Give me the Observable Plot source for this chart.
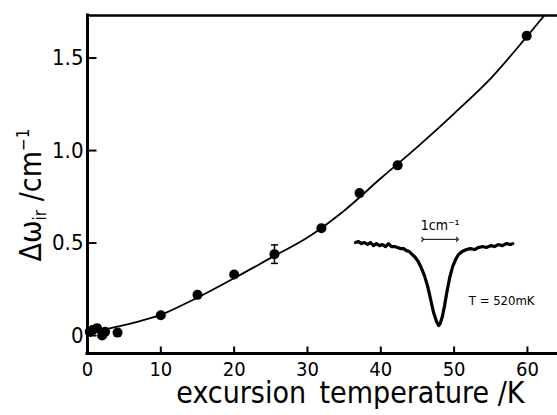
<!DOCTYPE html>
<html><head><meta charset="utf-8">
<script src="https://cdn.jsdelivr.net/npm/d3@7"></script>
<script src="https://cdn.jsdelivr.net/npm/@observablehq/plot@0.6"></script>
<style>
body{margin:0;background:#fff;}
</style></head><body><div id="chart"></div>
<script>
const FONT = '"DejaVu Sans Condensed","DejaVu Sans",sans-serif';

// Axis extents and ticks
const xMin = 0, xMax = 64.1;
const yMin = -0.097, yMax = 1.73;
const xTickValues = [0, 10, 20, 30, 40, 50, 60];
const yTickValues = [0, 0.5, 1.0, 1.5];
const yTickLabels = ["0", "0.5", "1.0", "1.5"];

// Measured points: excursion temperature (K) vs line shift (cm^-1)
const tempK = [0.3, 0.7, 1.3, 2.0, 2.4, 4.1, 10, 15, 20, 25.5, 31.9, 37.1, 42.3, 59.9];
const shift = [0.02, 0.03, 0.04, 0.0, 0.02, 0.016, 0.11, 0.22, 0.33, 0.44, 0.58, 0.77, 0.92, 1.62];

// Error bar
const errT = [25.5];
const errLo = [0.39];
const errHi = [0.49];

// Fitted curve
const fitT = [0, 2, 4, 6, 8, 10, 15, 20, 25, 30, 35, 40, 45, 50, 55, 60, 62.3];
const fitS = [0.015, 0.03, 0.048, 0.066, 0.088, 0.112, 0.205, 0.31, 0.42, 0.53, 0.675, 0.85, 1.02, 1.2, 1.39, 1.62, 1.73];

// Inset absorption trace (drawn in the main plot coordinates)
const insetX = [36.55, 36.96, 37.37, 37.77, 38.18, 38.59, 39.0, 39.41, 39.82, 40.23, 40.64, 41.05, 41.46, 41.87, 42.27, 42.68, 43.1, 43.5, 43.9, 44.3, 44.7, 45.1, 45.5, 45.95, 46.4, 46.8, 47.2, 47.6, 47.9, 48.1, 48.4, 48.7, 49.0, 49.4, 49.8, 50.2, 50.6, 51.1, 51.7, 52.2, 52.8, 53.3, 53.9, 54.4, 55.0, 55.5, 56.0, 56.6, 57.1, 57.7, 58.0];
const insetY = [0.503, 0.508, 0.497, 0.503, 0.492, 0.503, 0.486, 0.497, 0.486, 0.492, 0.481, 0.497, 0.481, 0.481, 0.476, 0.470, 0.470, 0.459, 0.454, 0.438, 0.422, 0.400, 0.368, 0.324, 0.265, 0.195, 0.124, 0.076, 0.054, 0.065, 0.103, 0.162, 0.232, 0.314, 0.373, 0.411, 0.438, 0.454, 0.465, 0.470, 0.465, 0.476, 0.481, 0.476, 0.486, 0.481, 0.492, 0.486, 0.497, 0.492, 0.497];

// Scale bar (1 cm^-1) of the inset
const barX1 = [45.7], barX2 = [50.45], barY = [0.52];
const barLabel = "1cm⁻¹";
const barLabelX = 48.1, barLabelY = 0.595;
const tempLabel = "T = 520mK";
const tempLabelX = 52.0, tempLabelY = 0.19;

const xLabel = "excursion\u2002temperature /K";

const points = tempK.map((t, i) => ({t, s: shift[i]}));
const fit = fitT.map((t, i) => ({t, s: fitS[i]}));
const inset = insetX.map((t, i) => ({t, s: insetY[i]}));
const err = errT.map((t, i) => ({t, lo: errLo[i], hi: errHi[i]}));
const bar = barX1.map((x1, i) => ({x1, x2: barX2[i], y: barY[i]}));

const tickUp = {draw(ctx) { ctx.moveTo(0, 0); ctx.lineTo(0, -7); }};
const tickRight = {draw(ctx) { ctx.moveTo(0, 0); ctx.lineTo(9, 0); }};
const capSym = {draw(ctx) { ctx.moveTo(-3.5, 0); ctx.lineTo(3.5, 0); }};

const chart = Plot.plot({
  width: 557,
  height: 415,
  marginLeft: 87,
  marginRight: 0,
  marginTop: 15,
  marginBottom: 62,
  x: {domain: [xMin, xMax]},
  y: {domain: [yMin, yMax]},
  style: {fontFamily: FONT, background: "white", color: "black"},
  marks: [
    Plot.axisX({ticks: xTickValues, tickSize: 0, tickPadding: 8, fontSize: 20, label: null}),
    Plot.axisY({ticks: yTickValues, tickSize: 0, tickPadding: 4, fontSize: 22, label: null,
      tickFormat: d => yTickLabels[yTickValues.indexOf(d)]}),
    Plot.ruleX([xMin], {strokeWidth: 3, strokeLinecap: "square"}),
    Plot.ruleY([yMin], {strokeWidth: 3, strokeLinecap: "square"}),
    Plot.ruleY([yMax], {strokeWidth: 2.5}),
    Plot.dot(xTickValues.filter(d => d > 0), {x: d => d, frameAnchor: "bottom", symbol: tickUp, stroke: "black", strokeWidth: 2, fill: "none"}),
    Plot.dot(yTickValues, {y: d => d, frameAnchor: "left", symbol: tickRight, stroke: "black", strokeWidth: 2, fill: "none"}),
    Plot.line(fit, {x: "t", y: "s", curve: "catmull-rom", strokeWidth: 1.8, clip: true}),
    Plot.ruleX(err, {x: "t", y1: "lo", y2: "hi", strokeWidth: 1.5}),
    Plot.dot(err, {x: "t", y: "lo", symbol: capSym, stroke: "black", strokeWidth: 1.5, fill: "none"}),
    Plot.dot(err, {x: "t", y: "hi", symbol: capSym, stroke: "black", strokeWidth: 1.5, fill: "none"}),
    Plot.dot(points, {x: "t", y: "s", r: 5, fill: "black", stroke: "none"}),
    Plot.line(inset, {x: "t", y: "s", strokeWidth: 3.2, strokeLinejoin: "round"}),
    Plot.link(bar, {x1: "x1", x2: "x2", y1: "y", y2: "y", strokeWidth: 1, markerStart: "arrow", markerEnd: "arrow"}),
    Plot.text([barLabel], {x: barLabelX, y: barLabelY, fontSize: 14, text: d => d}),
    Plot.text([tempLabel], {x: tempLabelX, y: tempLabelY, fontSize: 13, textAnchor: "start", text: d => d}),
    Plot.text([xLabel], {frameAnchor: "bottom-right", dx: -33, dy: 49, textAnchor: "end", fontSize: 30, text: d => d})
  ]
});

document.getElementById("chart").appendChild(chart);

// Y axis label with subscript and superscript
const yl = d3.select(chart).append("text")
  .attr("transform", "translate(41,195) rotate(-90)")
  .attr("text-anchor", "middle")
  .attr("fill", "black")
  .style("font-family", FONT)
  .style("font-size", "30px");
yl.append("tspan").text("Δω");
yl.append("tspan").attr("font-size", "17px").attr("dy", 5).text("ir");
yl.append("tspan").attr("dy", -5).text(" /cm");
yl.append("tspan").attr("font-size", "17px").attr("dy", -12).text("−1");
</script>
</body></html>
